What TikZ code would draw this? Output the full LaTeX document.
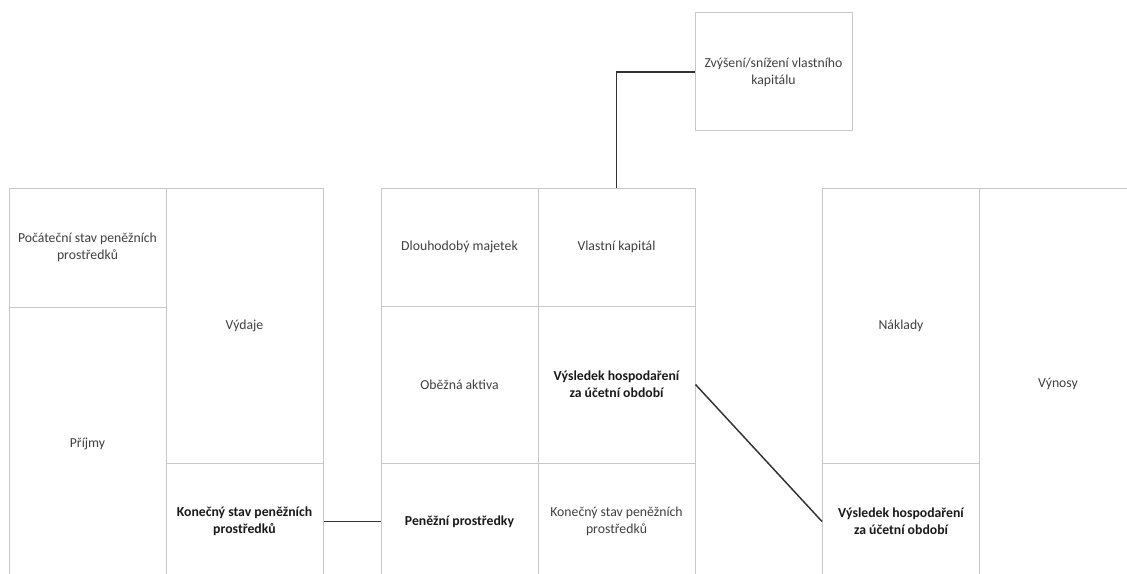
\documentclass[tikz,border=0pt]{standalone}
\usepackage{fontspec}
\setmainfont{Carlito}
\definecolor{boxline}{HTML}{C8C8C8}
\definecolor{txt}{HTML}{404040}
\definecolor{btxt}{HTML}{1A1A1A}
\definecolor{conn}{HTML}{333333}
\tikzset{
  cell/.style={draw=boxline, line width=0.75pt, inner sep=0pt, minimum width=117.75pt,
    align=center, text=txt, font=\fontsize{10.3}{12.8}\selectfont},
  bcell/.style={cell, text=btxt, font=\fontsize{10.3}{12.8}\selectfont\bfseries},
  link/.style={draw=conn, line width=1.1pt}
}
\begin{document}
\begin{tikzpicture}[x=0.75pt,y=-0.75pt]
\useasboundingbox (0,0) rectangle (1127,574);
\clip (0,0) rectangle (1127,574);
\fill[white] (0,0) rectangle (1127,574);
% left group
\node[cell, minimum height=89.25pt] (poc) at (87.5,247.5) {Počáteční stav peněžních\\prostředků};
\node[cell, minimum height=204.75pt] (pri) at (87.5,443.5) {Příjmy};
\node[cell, minimum height=206.25pt] (vyd) at (244.5,325.5) {Výdaje};
\node[bcell, minimum height=87.75pt] (kon) at (244.5,521.5) {Konečný stav peněžních\\prostředků};
% middle group
\node[cell, minimum height=88.5pt] (dlo) at (459.5,247) {Dlouhodobý majetek};
\node[cell, minimum height=117.75pt] (obe) at (459.5,384.5) {Oběžná aktiva};
\node[bcell, minimum height=87.75pt] (pen) at (459.5,521.5) {Peněžní prostředky};
\node[cell, minimum height=88.5pt] (vla) at (616.5,247) {Vlastní kapitál};
\node[bcell, minimum height=117.75pt] (vys) at (616.5,384.5) {Výsledek hospodaření\\za účetní období};
\node[cell, minimum height=87.75pt] (kon2) at (616.5,521.5) {Konečný stav peněžních\\prostředků};
% top box
\node[cell, minimum height=88.5pt] (zvy) at (773.5,72) {Zvýšení/snížení vlastního\\kapitálu};
% right group
\node[cell, minimum height=206.25pt] (nak) at (901,325.5) {Náklady};
\node[bcell, minimum height=87.75pt] (vys2) at (901,521.5) {Výsledek hospodaření\\za účetní období};
\node[cell, minimum height=294pt] (vyn) at (1058,384) {Výnosy};
% connectors
\draw[link] (zvy.west) -| (vla.north);
\draw[link] (kon.east) -- (pen.west);
\draw[link] (vys.east) -- (vys2.west);
\end{tikzpicture}
\end{document}
